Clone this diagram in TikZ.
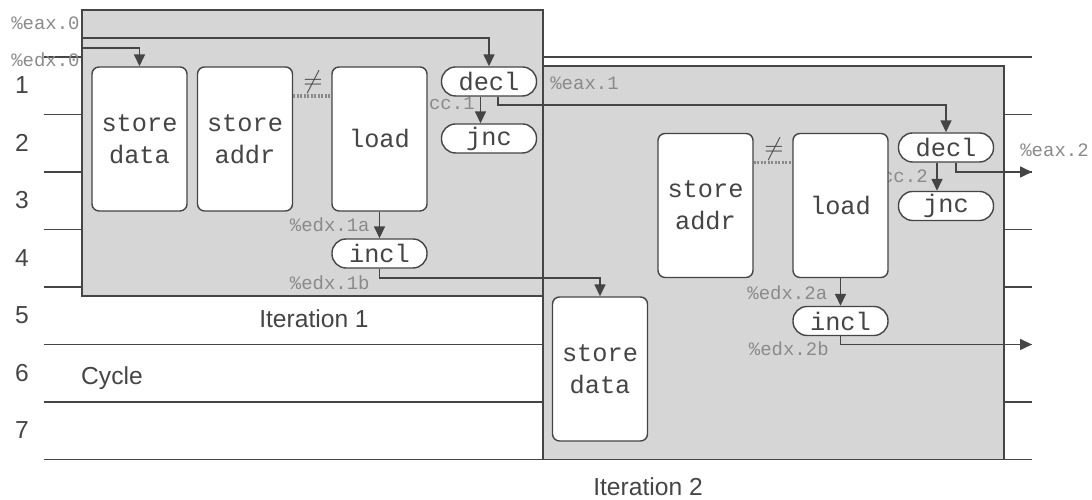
\documentclass[tikz,border=0pt]{standalone}
\usepackage{fontspec}
\setsansfont{Liberation Sans}
\setmonofont{Liberation Mono}
\usetikzlibrary{arrows.meta}
\definecolor{grigio}{HTML}{D6D6D6}
\definecolor{scuro}{HTML}{454545}
\definecolor{chiaro}{HTML}{8A8A8A}

\begin{document}
\begin{tikzpicture}[
    font=\sffamily\fontsize{14}{17}\selectfont,
    color=scuro,
    iter/.style={draw=scuro,fill=grigio,line width=1pt},
    riga/.style={line width=0.9pt},
    blocco/.style={draw=scuro,fill=white,rounded corners=4pt,line width=0.8pt,
      minimum width=1.9cm,minimum height=2.88cm,align=center,
      font=\ttfamily\fontsize{14.4}{18.2}\selectfont},
    capsula/.style={draw=scuro,fill=white,rounded corners=8pt,line width=0.8pt,
      minimum width=1.9cm,minimum height=0.58cm,inner sep=0pt,
      font=\ttfamily\fontsize{14.4}{18.2}\selectfont},
    freccia/.style={line width=0.9pt,-{Triangle[length=0.24cm,width=0.22cm]}},
    etich/.style={text=chiaro,inner sep=0pt,font=\ttfamily\fontsize{10.8}{13}\selectfont},
    diverso/.style={chiaro,line width=2pt,dash pattern=on 1.2pt off 0.8pt}]

  \useasboundingbox (0,0) rectangle (21.84,10);

  % righe dei cicli
  \draw[riga] (0.88,8.86) -- (20.64,8.86);
  \draw[riga] (0.88,7.71) -- (20.64,7.71);
  \draw[riga] (0.88,6.56) -- (20.64,6.56);
  \draw[riga] (0.88,5.41) -- (20.64,5.41);
  \draw[riga] (0.88,4.26) -- (20.64,4.26);
  \draw[riga] (0.88,3.11) -- (20.64,3.11);
  \draw[riga] (0.88,1.96) -- (20.64,1.96);
  \draw[riga] (0.88,0.81) -- (20.64,0.81);

  % le due iterazioni
  \draw[iter] (1.64,9.80) rectangle (10.86,4.08);
  \draw[iter] (10.86,8.68) rectangle (20.08,0.81);

  \node (c1) at (0.44,8.29) {1};
  \node (c2) at (0.44,7.14) {2};
  \node (c3) at (0.44,5.99) {3};
  \node (c4) at (0.44,4.84) {4};
  \node (c5) at (0.44,3.69) {5};
  \node (c6) at (0.44,2.54) {6};
  \node (c7) at (0.44,1.39) {7};
  \node[anchor=west] (ciclo) at (1.50,2.44) {Cycle};
  \node (it1) at (6.28,3.62) {Iteration 1};
  \node (it2) at (12.96,0.26) {Iteration 2};

  % etichette dei registri
  \node[etich,anchor=east] (leax0) at (1.60,9.54) {\%eax.0};
  \node[etich,anchor=east] (ledx0) at (1.60,8.80) {\%edx.0};
  \node[etich,anchor=east] (lcc1)  at (9.50,7.94) {cc.1};
  \node[etich,anchor=west] (leax1) at (11.00,8.33) {\%eax.1};
  \node[etich,anchor=east] (ledx1a) at (7.40,5.50) {\%edx.1a};
  \node[etich,anchor=east] (ledx1b) at (7.40,4.35) {\%edx.1b};
  \node[etich,anchor=east] (lcc2)  at (18.56,6.47) {cc.2};
  \node[etich,anchor=west] (leax2) at (20.40,7.00) {\%eax.2};
  \node[etich,anchor=east] (ledx2a) at (16.55,4.15) {\%edx.2a};
  \node[etich,anchor=east] (ledx2b) at (16.58,3.02) {\%edx.2b};

  % iterazione 1
  \node[blocco]  (sd1)   at (2.79,7.22) {store\\data};
  \node[blocco]  (sa1)   at (4.90,7.22) {store\\addr};
  \node[blocco]  (ld1)   at (7.59,7.22) {load};
  \node[capsula] (decl1) at (9.78,8.37) {decl};
  \node[capsula] (jnc1)  at (9.78,7.23) {jnc};
  \node[capsula] (incl1) at (7.59,4.93) {incl};

  % iterazione 2
  \node[blocco]  (sa2)   at (14.11,5.89) {store\\addr};
  \node[blocco]  (ld2)   at (16.81,5.89) {load};
  \node[capsula] (decl2) at (18.92,7.05) {decl};
  \node[capsula] (jnc2)  at (18.92,5.88) {jnc};
  \node[capsula] (incl2) at (16.81,3.58) {incl};
  \node[blocco]  (sd2)   at (12.00,2.62) {store\\data};

  \coordinate (eax0) at (1.64,9.24);
  \coordinate (edx0) at (1.64,9.04);
  \coordinate (eax2) at (20.64,6.56);
  \coordinate (edx2) at (20.64,3.11);

  \draw[diverso] ([yshift=0.86cm]sa1.east) -- ([yshift=0.86cm]ld1.west);
  \node (ne1) at (6.26,8.36) {$\neq$};
  \draw[diverso] ([yshift=0.86cm]sa2.east) -- ([yshift=0.86cm]ld2.west);
  \node (ne2) at (15.48,7.02) {$\neq$};

  \draw[freccia] (eax0) -| (decl1.north);
  \draw[freccia] (edx0) -| (sd1.north);
  \draw[freccia] ([xshift=-0.17cm]decl1.south) -- ([xshift=-0.17cm]jnc1.north);
  \draw[freccia] ([xshift=0.18cm]decl1.south) -- ++(0,-0.17) -| (decl2.north);
  \draw[freccia] (ld1) -- (incl1);
  \draw[freccia] (incl1.south) -- ++(0,-0.19) -| (sd2.north);
  \draw[freccia] ([xshift=-0.18cm]decl2.south) -- ([xshift=-0.18cm]jnc2.north);
  \draw[freccia] ([xshift=0.2cm]decl2.south) |- (eax2);
  \draw[freccia] (ld2) -- (incl2);
  \draw[freccia] (incl2.south) |- (edx2);

\end{tikzpicture}
\end{document}
